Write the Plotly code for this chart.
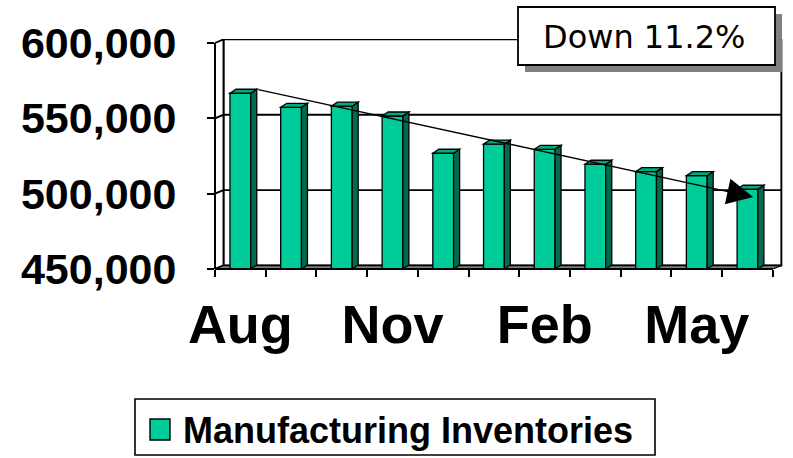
import plotly.graph_objects as go

# ---- data ----
months = ["Aug", "Sep", "Oct", "Nov", "Dec", "Jan", "Feb", "Mar", "Apr", "May", "Jun"]
inventories = [566600, 557300, 558000, 551500, 526800, 532800, 529400, 519500, 514600, 511900, 502900]
y_ticks = [450000, 500000, 550000, 600000]
label_months = ["Aug", "Nov", "Feb", "May"]
series_name = "Manufacturing Inventories"

pct_down = (1 - inventories[-1] / inventories[0]) * 100
change_text = f"Down {pct_down:.1f}%"

# ---- page geometry ----
W, H = 793, 458
ML, MR, MT, MB = 215, 10, 39, 189
X_RANGE = [-0.5, 10.7]
Y_RANGE = [450000, 602600]
PW, PH = W - ML - MR, H - MT - MB
CAT_PX = PW / (X_RANGE[1] - X_RANGE[0])
VAL_PX = PH / (Y_RANGE[1] - Y_RANGE[0])

def px_x(p):
    return (p - ML) / PW

def px_y(p):
    return (H - MB - p) / PH

# depth of the walls and of the columns (3-D look)
WDX, WDY = 8.5 / CAT_PX, 3.5 / VAL_PX
BDX, BDY = 6.0 / CAT_PX, 4.0 / VAL_PX
BAR_W = 0.41

FRONT = "#00CC99"
SIDE = "#006B4F"
TOP = "#00A87E"
FLOOR = "#7F7F7F"
FONT = "Arial, Liberation Sans, sans-serif"
EDGE = dict(color="black", width=1.9)

idx = list(range(len(months)))
x0, x1 = -0.5, len(months) - 0.5
y_lo, y_hi = y_ticks[0], y_ticks[-1]

shapes = []

# back wall
shapes.append(dict(type="rect", xref="x", yref="y", layer="below",
                   x0=x0 + WDX, x1=x1 + WDX, y0=y_lo + WDY, y1=y_hi + WDY,
                   line=EDGE, fillcolor="white"))
# left side wall
shapes.append(dict(type="path", xref="x", yref="y", layer="below",
                   path=f"M{x0},{y_lo} L{x0},{y_hi} L{x0 + WDX},{y_hi + WDY} L{x0 + WDX},{y_lo + WDY} Z",
                   line=EDGE, fillcolor="white"))
# gridlines on side wall and back wall
for v in y_ticks[1:-1]:
    shapes.append(dict(type="path", xref="x", yref="y", layer="below",
                       path=f"M{x0},{v} L{x0 + WDX},{v + WDY} L{x1 + WDX},{v + WDY}",
                       line=EDGE))
# floor
shapes.append(dict(type="path", xref="x", yref="y", layer="below",
                   path=f"M{x0},{y_lo} L{x1},{y_lo} L{x1 + WDX},{y_lo + WDY} L{x0 + WDX},{y_lo + WDY} Z",
                   line=dict(color="black", width=1.3), fillcolor=FLOOR))

# column side and top faces
for i, v in zip(idx, inventories):
    xl, xr = i - BAR_W / 2, i + BAR_W / 2
    shapes.append(dict(type="path", xref="x", yref="y", layer="above",
                       path=f"M{xr},{y_lo} L{xr},{v} L{xr + BDX},{v + BDY} L{xr + BDX},{y_lo + BDY} Z",
                       line=dict(color="black", width=1.3), fillcolor=SIDE))
    shapes.append(dict(type="path", xref="x", yref="y", layer="above",
                       path=f"M{xl},{v} L{xr},{v} L{xr + BDX},{v + BDY} L{xl + BDX},{v + BDY} Z",
                       line=dict(color="black", width=1.3), fillcolor=TOP))

# front edges: value axis line and category floor edge
shapes.append(dict(type="line", xref="paper", yref="y", x0=0, x1=0, y0=y_lo, y1=y_hi,
                   line=dict(color="black", width=2)))
shapes.append(dict(type="line", xref="x", yref="paper", x0=x0, x1=x1, y0=0, y1=0,
                   line=dict(color="black", width=2)))

# callout box with drop shadow
shapes.append(dict(type="rect", xref="paper", yref="paper",
                   x0=px_x(525), x1=px_x(782), y0=px_y(72), y1=px_y(14),
                   line=dict(width=0), fillcolor="#808080"))
shapes.append(dict(type="rect", xref="paper", yref="paper",
                   x0=px_x(518), x1=px_x(775), y0=px_y(65), y1=px_y(7),
                   line=dict(color="black", width=1.8), fillcolor="white"))

# legend frame and swatch
shapes.append(dict(type="rect", xref="paper", yref="paper",
                   x0=px_x(135), x1=px_x(655), y0=px_y(455), y1=px_y(399),
                   line=dict(color="black", width=1.6), fillcolor="white"))
shapes.append(dict(type="rect", xref="paper", yref="paper",
                   x0=px_x(150), x1=px_x(170), y0=px_y(440), y1=px_y(419),
                   line=dict(color="black", width=1.4), fillcolor=FRONT))

annotations = [
    # trend arrow from first to last column
    dict(x=idx[-1] + 0.11, y=inventories[-1] - 5100,
         ax=idx[0] + BAR_W / 2 + BDX, ay=inventories[0] + BDY,
         xref="x", yref="y", axref="x", ayref="y",
         text="", showarrow=True, arrowhead=2, arrowsize=4, arrowwidth=1.3,
         arrowcolor="black", standoff=0, startstandoff=0),
    dict(x=px_x(644), y=px_y(37), xref="paper", yref="paper",
         text=change_text, showarrow=False, xanchor="center", yanchor="middle",
         font=dict(family="DejaVu Sans, Verdana, sans-serif", size=32, color="black")),
    dict(x=px_x(181), y=px_y(430), xref="paper", yref="paper",
         text=series_name, showarrow=False, xanchor="left", yanchor="middle",
         font=dict(family=FONT, size=36, color="black", weight="bold")),
]

fig = go.Figure(go.Bar(
    x=idx, y=inventories, width=BAR_W, name=series_name, showlegend=False,
    marker=dict(color=FRONT, line=dict(color="black", width=1.3)),
))

fig.update_layout(
    width=W, height=H,
    margin=dict(l=ML, r=MR, t=MT, b=MB, pad=0),
    paper_bgcolor="white", plot_bgcolor="rgba(0,0,0,0)",
    shapes=shapes, annotations=annotations, showlegend=False,
    xaxis=dict(range=X_RANGE, showgrid=False, zeroline=False, showline=False,
               tickmode="array", tickvals=[months.index(m) for m in label_months],
               ticktext=label_months, ticks="", ticklabelstandoff=19,
               tickfont=dict(family=FONT, size=54, color="black", weight="bold"),
               minor=dict(tickmode="array", tickvals=[i - 0.5 for i in range(len(months) + 1)],
                          ticks="outside", ticklen=7, tickwidth=1.8, tickcolor="black",
                          showgrid=False)),
    yaxis=dict(range=Y_RANGE, showgrid=False, zeroline=False, showline=False,
               tickmode="array", tickvals=y_ticks, tickformat=",",
               ticks="outside", ticklen=7, tickwidth=1.8, tickcolor="black",
               ticklabelstandoff=22,
               tickfont=dict(family=FONT, size=43, color="black", weight="bold")),
)

fig.write_html("out.html")
